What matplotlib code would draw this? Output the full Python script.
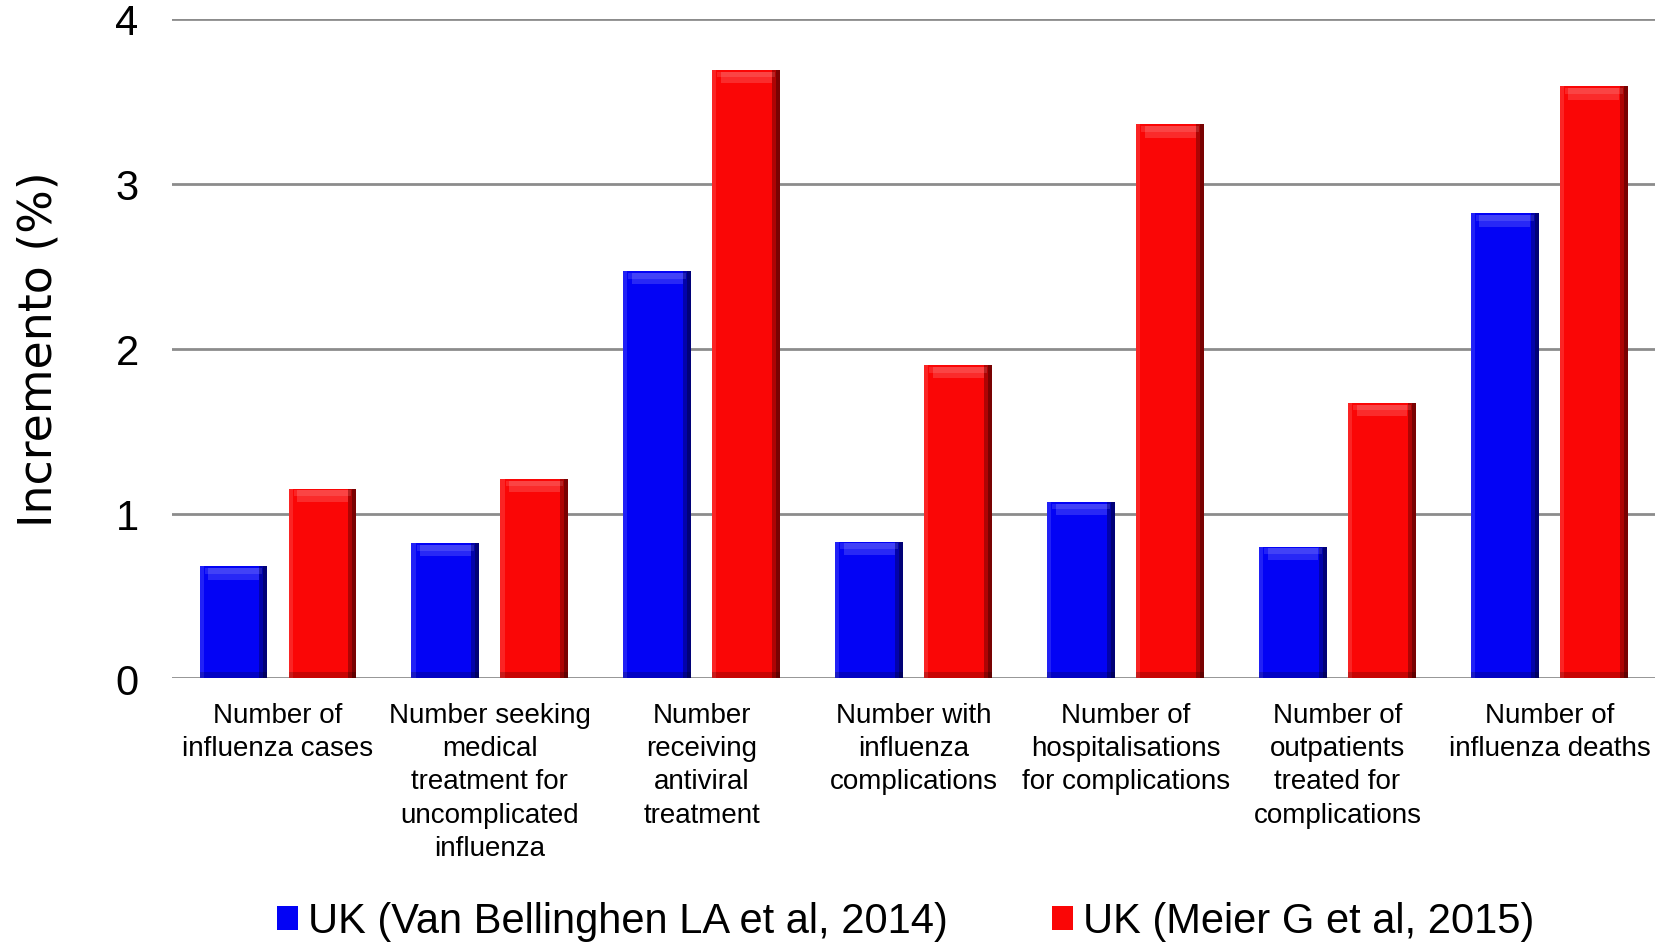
import numpy as np
import matplotlib.pyplot as plt
from matplotlib.patches import Patch

# ===================== Données =====================
categories = [
    "Number of\ninfluenza cases",
    "Number seeking\nmedical\ntreatment for\nuncomplicated\ninfluenza",
    "Number\nreceiving\nantiviral\ntreatment",
    "Number with\ninfluenza\ncomplications",
    "Number of\nhospitalisations\nfor complications",
    "Number of\noutpatients\ntreated for\ncomplications",
    "Number of\ninfluenza deaths",
]
van_bellinghen = [0.68, 0.82, 2.47, 0.83, 1.07, 0.80, 2.82]
meier = [1.15, 1.21, 3.69, 1.90, 3.36, 1.67, 3.59]
labels = ["UK (Van Bellinghen LA et al, 2014)", "UK (Meier G et al, 2015)"]
couleurs = ["#0303F5", "#FA0606"]
# ===================================================

plt.rcParams["font.family"] = ["Liberation Sans", "DejaVu Sans"]

fig = plt.figure(figsize=(16.62, 9.45), dpi=100)
ax = fig.add_axes([0.1035, 0.281, 0.8925, 0.698])

x = np.arange(len(categories))
largeur = 0.32
decal = 0.21


def barres_biseau(xs, vals, couleur):
    # barre principale + petit effet de relief (bord droit sombre, haut clair)
    vals = np.array(vals)
    ax.bar(xs, vals, largeur, color=couleur, zorder=3, linewidth=0)
    ax.bar(xs + largeur * 0.44, vals, largeur * 0.12, color="black",
           alpha=0.3, zorder=4, linewidth=0)
    ax.bar(xs + largeur * 0.47, vals, largeur * 0.06, color="black",
           alpha=0.3, zorder=4, linewidth=0)
    ax.bar(xs - largeur * 0.47, vals, largeur * 0.06, color="white",
           alpha=0.12, zorder=4, linewidth=0)
    ax.bar(xs, [0.07] * len(vals), largeur * 0.75, bottom=vals - 0.08,
           color="white", alpha=0.15, zorder=4, linewidth=0)
    ax.bar(xs, [0.035] * len(vals), largeur * 0.85, bottom=vals - 0.045,
           color="white", alpha=0.12, zorder=4, linewidth=0)
    ax.bar(xs, [0.04] * len(vals), largeur, bottom=0,
           color="black", alpha=0.2, zorder=4, linewidth=0)


barres_biseau(x - decal, van_bellinghen, couleurs[0])
barres_biseau(x + decal, meier, couleurs[1])

ax.set_xlim(-0.5, len(categories) - 0.5)
ax.set_ylim(0, 4)
ax.set_yticks([0, 1, 2, 3, 4])
ax.yaxis.grid(True, color="#8c8c8c", linewidth=2)
ax.set_axisbelow(True)
for s in ax.spines.values():
    s.set_visible(False)
ax.tick_params(axis="both", length=0)
ax.tick_params(axis="y", labelsize=30, pad=24)
ax.set_xticks(x)
ax.set_xticklabels(categories, fontsize=20, linespacing=1.36)
ax.tick_params(axis="x", pad=17)
ax.set_ylabel("Incremento (%)", fontsize=33, labelpad=39, family=["DejaVu Sans"])

poignees = [Patch(facecolor=c, edgecolor="none") for c in couleurs]
fig.legend(poignees, labels, loc="lower center", ncol=2, frameon=False,
           fontsize=30, bbox_to_anchor=(0.545, -0.037), handlelength=0.5,
           handleheight=0.5, handletextpad=0.25, columnspacing=2.5)

fig.savefig("out.png", dpi=100)
